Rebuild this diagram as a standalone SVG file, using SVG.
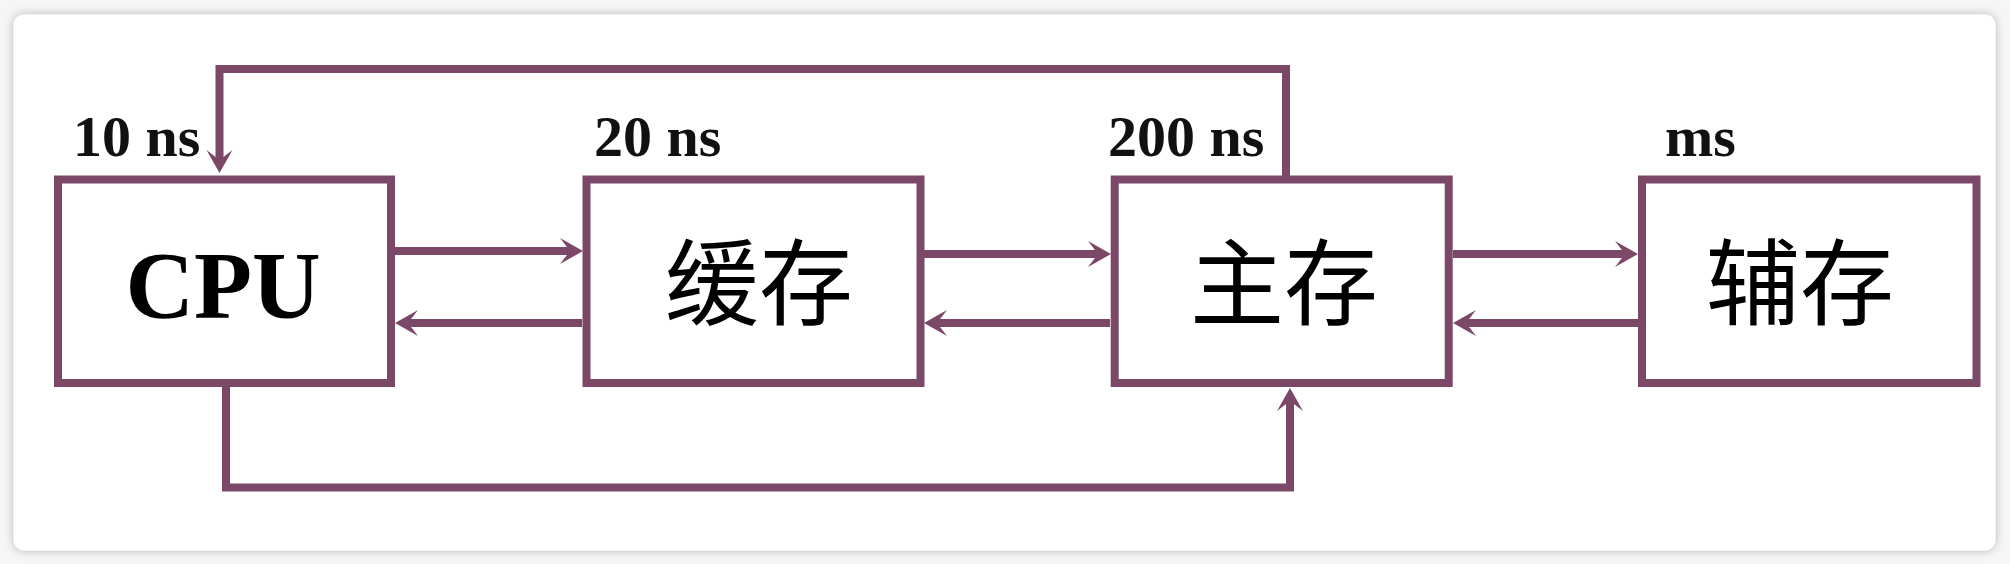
<svg xmlns="http://www.w3.org/2000/svg" width="2010" height="564" viewBox="0 0 2010 564">
  <defs>
    <filter id="shadow" x="-5%" y="-10%" width="110%" height="120%">
      <feDropShadow dx="0" dy="0" stdDeviation="5" flood-color="#000" flood-opacity="0.28"/>
    </filter>
    <marker id="arr" viewBox="-26 -15 30 30" refX="-10" refY="0" markerWidth="30" markerHeight="30" markerUnits="userSpaceOnUse" orient="auto">
      <path d="M0,0 L-23,-13 L-13,0 L-23,13 Z" fill="#7b4868"/>
    </marker>
    <style>
      .box { fill: #ffffff; stroke: #7b4868; stroke-width: 8; }
      .conn { fill: none; stroke: #7b4868; stroke-width: 8; stroke-linejoin: miter; }
      .lat { font-family: "Liberation Serif", "Times New Roman", serif; font-weight: bold; font-size: 58px; fill: #111; }
      .en { font-family: "Liberation Serif", "Times New Roman", serif; font-weight: bold; font-size: 95px; fill: #000; text-anchor: middle; }
      .zh { font-family: "Liberation Serif", "Noto Sans CJK SC", sans-serif; font-size: 94px; font-weight: 400; fill: #000; text-anchor: middle; }
    </style>
  </defs>
  <rect x="0" y="0" width="2010" height="564" fill="#f6f6f6"/>
  <rect x="13.5" y="14.5" width="1982" height="536" rx="11" fill="#ffffff" filter="url(#shadow)"/>

  <g id="connectors">
    <path class="conn" d="M395,251 H573" marker-end="url(#arr)"/>
    <path class="conn" d="M582,323 H405" marker-end="url(#arr)"/>
    <path class="conn" d="M924,254 H1101" marker-end="url(#arr)"/>
    <path class="conn" d="M1110,323 H934" marker-end="url(#arr)"/>
    <path class="conn" d="M1453,254 H1628" marker-end="url(#arr)"/>
    <path class="conn" d="M1638,323 H1463" marker-end="url(#arr)"/>
    <path class="conn" d="M1286,176 V69 H219.5 V163" marker-end="url(#arr)"/>
    <path class="conn" d="M226,387 V487.5 H1290 V398" marker-end="url(#arr)"/>
  </g>

  <g id="cpu">
    <rect class="box" x="58" y="179.5" width="333" height="203.5"/>
    <text class="lat" x="73" y="156">10 ns</text>
    <text class="en" x="223" y="318">CPU</text>
  </g>
  <g id="cache">
    <rect class="box" x="586.5" y="179.5" width="334" height="203.5"/>
    <text class="lat" x="594" y="156">20 ns</text>
    <text class="zh" x="759" y="318">缓存</text>
  </g>
  <g id="main-memory">
    <rect class="box" x="1114.7" y="179.5" width="334" height="203.5"/>
    <text class="lat" x="1108" y="156">200 ns</text>
    <text class="zh" x="1284" y="318">主存</text>
  </g>
  <g id="secondary-storage">
    <rect class="box" x="1642" y="179.5" width="334.5" height="203.5"/>
    <text class="lat" x="1665" y="156">ms</text>
    <text class="zh" x="1800" y="318">辅存</text>
  </g>
</svg>
